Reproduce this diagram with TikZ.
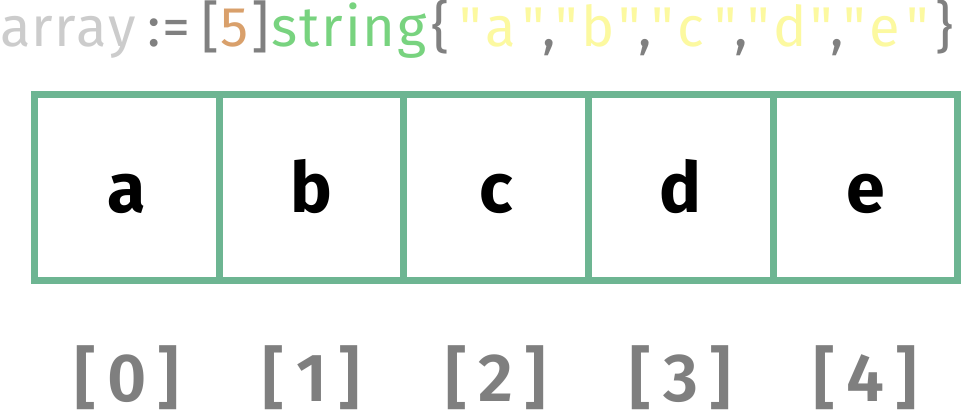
\documentclass[tikz,border=0pt]{standalone}
\usepackage{fontspec}
\setmainfont{Fira Sans}[Ligatures=TeXOff]
\newfontfamily\idxfont{Fira Sans SemiBold}
\definecolor{boxgreen}{HTML}{6DB592}
\definecolor{codegray}{HTML}{808080}
\definecolor{lightgray}{HTML}{CCCCCC}
\definecolor{numorange}{HTML}{D9A06B}
\definecolor{typegreen}{HTML}{78D37F}
\definecolor{stryellow}{HTML}{FCF9A0}
\definecolor{idxgray}{HTML}{7F7F7F}
\newcommand{\strlit}[1]{\textcolor{stryellow}{\makebox[26pt][l]{"}\makebox[37pt][l]{#1}\makebox[20pt][l]{"}}}
\begin{document}
\begin{tikzpicture}[x=1pt,y=1pt,
  cell/.style={draw=boxgreen,line width=7pt,minimum width=184.6pt,minimum height=185.6pt,
    inner sep=0pt,text height=51pt,text depth=0pt,font=\fontsize{70}{80}\selectfont\bfseries},
  idx/.style={anchor=base,text=idxgray,font=\fontsize{68}{78}\selectfont\idxfont},
  code/.style={anchor=base west,inner sep=0pt,font=\fontsize{56}{66}\selectfont}]
\useasboundingbox (0,0) rectangle (964,420);
\fill[white] (0,0) rectangle (964,420);
\node[code,text=lightgray] (t1) at (0,373) {a\kern1pt r\kern1pt r\kern1pt a\kern1pt y};
\node[code,text=codegray] (t2) at (147,373) {:\kern2pt=};
\node[code,text=codegray] (t3) at (201,373) {[};
\node[code,text=numorange] (t4) at (220,373) {5};
\node[code,text=codegray] (t5) at (251,373) {]};
\node[code,text=typegreen] (t6) at (271,373) {s\kern2pt t\kern2pt r\kern2pt i\kern2pt n\kern2pt g};
\node[code,text=codegray] (t7) at (431,373) {\{};
\foreach \l [count=\k from 0] in {a,b,c,d}{
  \node[code] (q\k) at ({459+96*\k},373) {\strlit{\l}\textcolor{codegray}{\makebox[8pt][l]{,}}};
}
\node[code] (q4) at (843,373) {\strlit{e}};
\node[code,text=codegray] (t8) at (935,373) {\}};
\foreach \l [count=\i from 0] in {a,b,c,d,e}{
  \node[cell] (c\i) at ({127+184.6*\i},232.5) {\l};
  \node[idx] (i\i) at ({127+184.6*\i},18) {[\,\i\,]};
}
\end{tikzpicture}
\end{document}
